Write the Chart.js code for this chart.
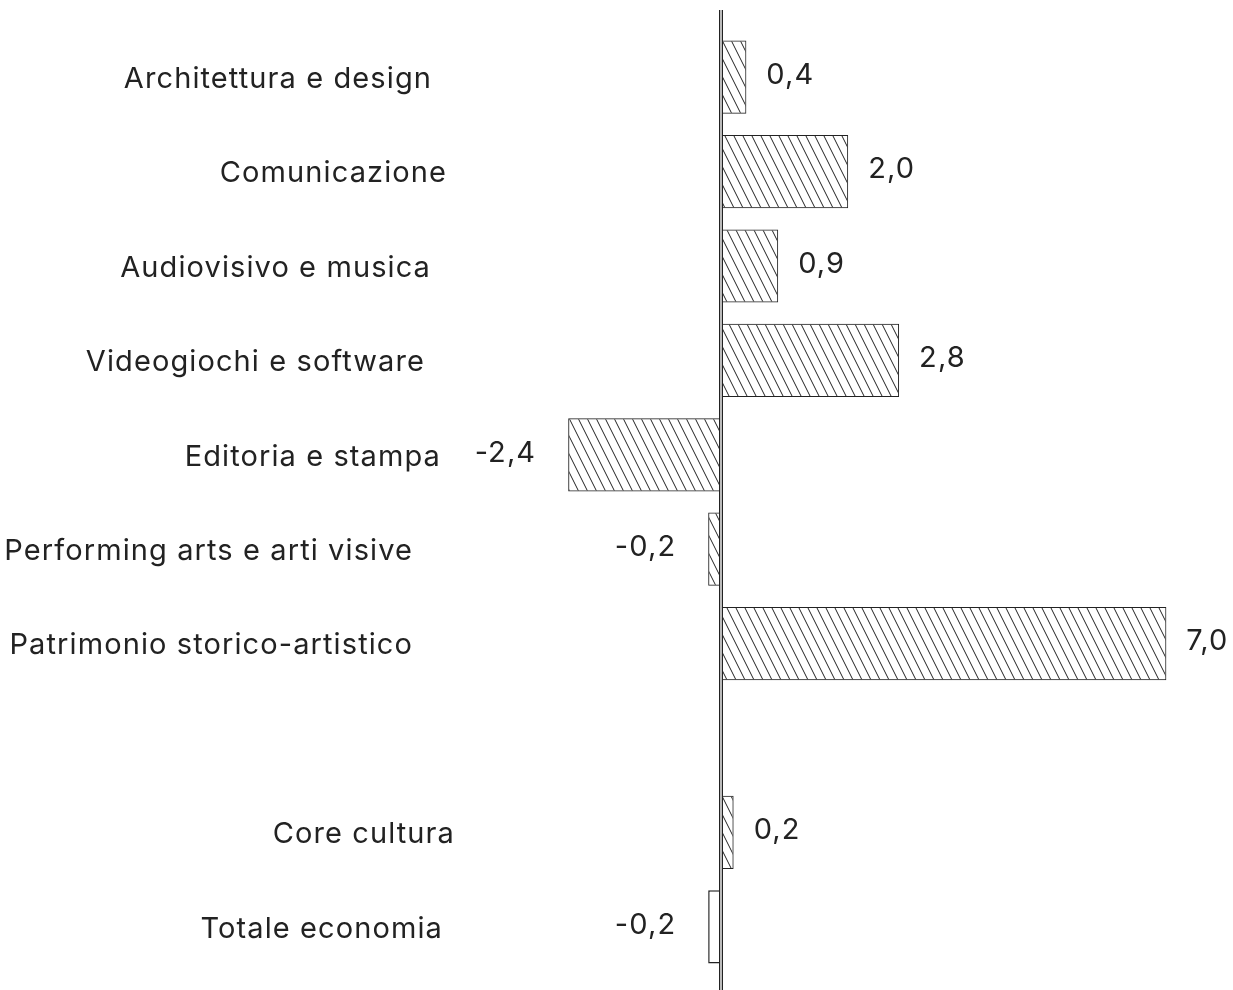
<!DOCTYPE html>
<html>
<head>
<meta charset="utf-8">
<script src="https://cdn.jsdelivr.net/npm/chart.js@4.4.1/dist/chart.umd.min.js"></script>
<style>
  html, body { margin: 0; padding: 0; background: #fff; }
  #wrap { width: 1233px; height: 990px; position: relative; }
</style>
</head>
<body>
<div id="wrap"><canvas id="BarChart"></canvas></div>
<script>
// Data
const categories = [
  'Architettura e design',
  'Comunicazione',
  'Audiovisivo e musica',
  'Videogiochi e software',
  'Editoria e stampa',
  'Performing arts e arti visive',
  'Patrimonio storico-artistico',
  '',
  'Core cultura',
  'Totale economia'
];
const values = [0.4, 2.0, 0.9, 2.8, -2.4, -0.2, 7.0, null, 0.2, -0.2];
const valueLabels = ['0,4', '2,0', '0,9', '2,8', '-2,4', '-0,2', '7,0', '', '0,2', '-0,2'];

// where each category label ends on the left (layout only)
const labelRight = [432, 447, 431, 425, 441, 413, 413, 0, 455, 443];

const FONT = '29px Inter, "Noto Sans", sans-serif';

// diagonal hatch pattern "\\\"
function makeHatch() {
  const w = 9, h = 18;
  const c = document.createElement('canvas');
  c.width = w; c.height = h;
  const g = c.getContext('2d');
  g.strokeStyle = '#222';
  g.lineWidth = 1;
  g.beginPath();
  g.moveTo(0, 0); g.lineTo(w, h);
  g.moveTo(-w, 0); g.lineTo(0, h);
  g.moveTo(w, 0); g.lineTo(2 * w, h);
  g.stroke();
  return g.createPattern(c, 'repeat');
}

const ctx = document.getElementById('BarChart').getContext('2d');
const hatch = makeHatch();
const lastIdx = categories.length - 1;

// zero axis line running almost full height
const zeroLine = {
  id: 'zeroLine',
  afterDatasetsDraw(chart) {
    const c = chart.ctx;
    const x = Math.round(chart.scales.x.getPixelForValue(0));
    c.save();
    c.fillStyle = '#bbb';
    c.fillRect(x - 1, 10, 3, 980);
    c.fillStyle = '#222';
    c.fillRect(x - 2, 10, 1, 980);
    c.fillRect(x + 1, 10, 1, 980);
    c.restore();
  }
};

// category names and value labels
const textLabels = {
  id: 'textLabels',
  afterDraw(chart) {
    const c = chart.ctx;
    const meta = chart.getDatasetMeta(0);
    c.save();
    c.font = FONT;
    c.letterSpacing = '1.1px';
    c.fillStyle = '#222';
    c.textBaseline = 'middle';
    meta.data.forEach((bar, i) => {
      if (values[i] === null) return;
      const y = bar.y;
      c.textAlign = 'right';
      c.fillText(categories[i], labelRight[i], y + 2);
      if (values[i] >= 0) {
        c.textAlign = 'left';
        c.fillText(valueLabels[i], bar.x + 20, y - 2);
      } else {
        c.textAlign = 'right';
        c.fillText(valueLabels[i], bar.x - 32, y - 2);
      }
    });
    c.restore();
  }
};

new Chart(ctx, {
  type: 'bar',
  data: {
    labels: categories,
    datasets: [{
      data: values,
      backgroundColor: values.map((v, i) => i === lastIdx ? '#fff' : hatch),
      borderColor: '#222',
      borderWidth: values.map((v, i) => i === lastIdx ? 1.5 : 1),
      borderSkipped: false,
      barPercentage: 0.775,
      categoryPercentage: 1
    }]
  },
  options: {
    indexAxis: 'y',
    responsive: true,
    maintainAspectRatio: false,
    animation: false,
    layout: { padding: { left: 530, right: 3, top: 30, bottom: 16 } },
    plugins: {
      legend: { display: false },
      tooltip: { enabled: false }
    },
    scales: {
      x: {
        min: -3,
        max: 8,
        display: false
      },
      y: {
        display: false
      }
    }
  },
  plugins: [zeroLine, textLabels]
});
</script>
</body>
</html>
